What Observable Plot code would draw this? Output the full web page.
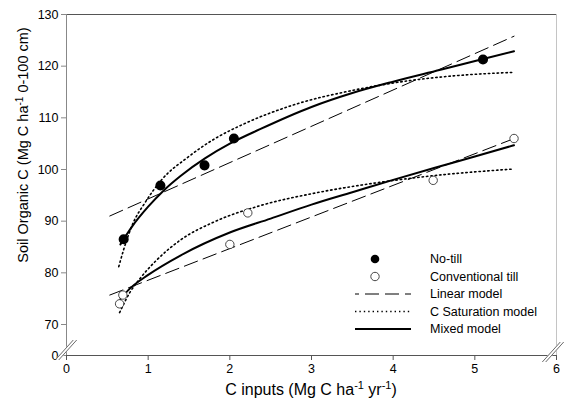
<!DOCTYPE html>
<html><head><meta charset="utf-8">
<script src="https://cdn.jsdelivr.net/npm/d3@7"></script>
<script src="https://cdn.jsdelivr.net/npm/@observablehq/plot@0.6"></script>
<style>
body{margin:0;background:#fff}
svg{font-family: Arial, "Liberation Sans", sans-serif}
</style>
</head><body><div id="chart"></div>
<script>
// ---- observed data ----
const ntX = [0.70, 1.15, 1.69, 2.05, 5.10];
const ntY = [86.5, 96.9, 100.8, 106.0, 121.3];
const ctX = [0.65, 0.69, 2.00, 2.22, 4.49, 5.48];
const ctY = [74.0, 75.7, 85.5, 91.6, 97.9, 106.0];

// ---- model curves ----
const ntLinX = [0.53, 5.48];
const ntLinY = [91.0, 125.8];
const ctLinX = [0.53, 5.45];
const ctLinY = [75.7, 105.8];

const ntSatX = [0.64, 0.70, 0.82, 0.95, 1.17, 1.48, 1.80, 2.17, 2.80, 3.50, 4.20, 4.80, 5.47];
const ntSatY = [81.2, 84.5, 89.8, 93.3, 98.1, 102.3, 105.8, 108.8, 112.6, 115.3, 117.2, 118.2, 118.8];
const ctSatX = [0.65, 0.78, 0.91, 1.10, 1.40, 1.80, 2.37, 3.03, 3.70, 4.49, 5.48];
const ctSatY = [72.3, 76.3, 79.1, 82.4, 86.4, 89.8, 93.0, 95.4, 97.2, 98.8, 100.1];

const ntMixX = [0.66, 0.80, 1.00, 1.20, 1.40, 1.70, 2.00, 2.37, 3.00, 3.50, 4.00, 4.58, 5.10, 5.48];
const ntMixY = [85.5, 88.9, 92.8, 96.1, 98.8, 102.2, 105.0, 107.8, 112.1, 114.8, 117.0, 119.3, 121.4, 122.9];
const ctMixX = [0.66, 0.76, 1.00, 1.40, 2.00, 2.50, 3.00, 3.50, 4.00, 4.50, 5.00, 5.48];
const ctMixY = [74.9, 76.7, 79.6, 83.4, 87.8, 90.5, 93.2, 95.6, 98.0, 100.3, 102.5, 104.7];

// ---- axes ----
const xTicks = [0, 1, 2, 3, 4, 5, 6];
const yTicks = [70, 80, 90, 100, 110, 120, 130];
const yBreakValue = 64;      // bottom of broken axis
const yBreakLabel = "0";
const xDomain = [0, 6];
const yDomain = [yBreakValue, 130];

const legendLabels = ["No-till", "Conventional till", "Linear model", "C Saturation model", "Mixed model"];

const zip = (xs, ys) => xs.map((x, i) => ({x, y: ys[i]}));

const DASH = "14,6";
const DOT = "1.4,3";

const plot = Plot.plot({
  width: 565,
  height: 408,
  marginLeft: 66,
  marginRight: 9,
  marginTop: 14,
  marginBottom: 53,
  x: {domain: xDomain, label: null},
  y: {domain: yDomain, label: null},
  style: {fontFamily: "Arial, 'Liberation Sans', sans-serif", fontSize: "12px", background: "white"},
  marks: [
    // frame lines
    Plot.ruleY([130], {stroke: "#555", strokeWidth: 1}),
    Plot.ruleX([6], {stroke: "#c4c4c4", strokeWidth: 1}),
    Plot.ruleX([0], {stroke: "#888", strokeWidth: 1}),
    Plot.ruleY([yBreakValue], {stroke: "#555", strokeWidth: 1}),
    Plot.axisX({ticks: xTicks, tickFormat: d => String(d), tickSize: 5, tickPadding: 4, stroke: "#555", fill: "black", fontSize: 12.5, label: null}),
    Plot.axisY({ticks: [yBreakValue, ...yTicks], tickFormat: d => d === yBreakValue ? yBreakLabel : String(d), tickSize: 5, tickPadding: 3, stroke: "#888", fill: "black", fontSize: 12.5, label: null}),
    // linear
    Plot.line(zip(ntLinX, ntLinY), {x: "x", y: "y", stroke: "black", strokeWidth: 1, strokeDasharray: DASH}),
    Plot.line(zip(ctLinX, ctLinY), {x: "x", y: "y", stroke: "black", strokeWidth: 1, strokeDasharray: DASH}),
    // saturation
    Plot.line(zip(ntSatX, ntSatY), {x: "x", y: "y", stroke: "black", strokeWidth: 1.6, strokeDasharray: DOT, curve: "monotone-x"}),
    Plot.line(zip(ctSatX, ctSatY), {x: "x", y: "y", stroke: "black", strokeWidth: 1.6, strokeDasharray: DOT, curve: "monotone-x"}),
    // mixed
    Plot.line(zip(ntMixX, ntMixY), {x: "x", y: "y", stroke: "black", strokeWidth: 2, curve: "monotone-x"}),
    Plot.line(zip(ctMixX, ctMixY), {x: "x", y: "y", stroke: "black", strokeWidth: 2, curve: "monotone-x"}),
    // points
    Plot.dot(zip(ntX, ntY), {x: "x", y: "y", r: 4.3, fill: "black", stroke: "black"}),
    Plot.dot(zip(ctX, ctY), {x: "x", y: "y", r: 4.2, fill: "white", stroke: "#333", strokeWidth: 0.9})
  ]
});

document.getElementById("chart").appendChild(plot);
const svg = d3.select(plot);
const sx = plot.scale("x"), sy = plot.scale("y");
const px = v => sx.apply(v), py = v => sy.apply(v);

// axis breaks
function brk(cx, cy) {
  const g = svg.append("g");
  g.append("path").attr("d", `M${cx-9},${cy+10}L${cx+9},${cy-10}`).attr("stroke", "white").attr("stroke-width", 3.5);
  [-1.7, 1.7].forEach(o => g.append("path").attr("d", `M${cx-9+o},${cy+10}L${cx+9+o},${cy-10}`).attr("stroke", "#444").attr("stroke-width", 0.8));
}
brk(px(0), py(yBreakValue) - 5);
brk(px(6) - 3, py(yBreakValue) - 3);

// axis titles
const xt = svg.append("text").attr("x", px(3)).attr("y", 395).attr("text-anchor", "middle").attr("font-size", 16).attr("fill", "black");
xt.append("tspan").text("C inputs (Mg C ha");
xt.append("tspan").attr("font-size", 11).attr("dy", -6).text("-1");
xt.append("tspan").attr("dy", 6).text(" yr");
xt.append("tspan").attr("font-size", 11).attr("dy", -6).text("-1");
xt.append("tspan").attr("dy", 6).text(")");

const yt = svg.append("text").attr("transform", `translate(28,145) rotate(-90)`).attr("text-anchor", "middle").attr("font-size", 14.5).attr("fill", "black");
yt.append("tspan").text("Soil Organic C (Mg C ha");
yt.append("tspan").attr("font-size", 10).attr("dy", -5).text("-1");
yt.append("tspan").attr("dy", 5).text(" 0-100 cm)");

// legend
const lg = svg.append("g").attr("font-size", 12.5).attr("text-anchor", "start");
const rowY = [259, 276.5, 294, 311.5, 329];
const symX = 375, lineX0 = 355, lineX1 = 411, textX = 430;
lg.append("circle").attr("cx", symX).attr("cy", rowY[0]).attr("r", 4.3).attr("fill", "black");
lg.append("circle").attr("cx", symX).attr("cy", rowY[1]).attr("r", 4.2).attr("fill", "white").attr("stroke", "#333").attr("stroke-width", 0.9);
lg.append("line").attr("x1", lineX0).attr("x2", lineX1).attr("y1", rowY[2]).attr("y2", rowY[2]).attr("stroke", "black").attr("stroke-dasharray", DASH).attr("stroke-dashoffset", 10);
lg.append("line").attr("x1", lineX0).attr("x2", lineX1).attr("y1", rowY[3]).attr("y2", rowY[3]).attr("stroke", "black").attr("stroke-width", 1.6).attr("stroke-dasharray", DOT);
lg.append("line").attr("x1", lineX0).attr("x2", lineX1).attr("y1", rowY[4]).attr("y2", rowY[4]).attr("stroke", "black").attr("stroke-width", 2);
legendLabels.forEach((t, i) => lg.append("text").attr("x", textX).attr("y", rowY[i]).attr("dy", "0.35em").attr("fill", "black").text(t));
</script>
</body></html>
